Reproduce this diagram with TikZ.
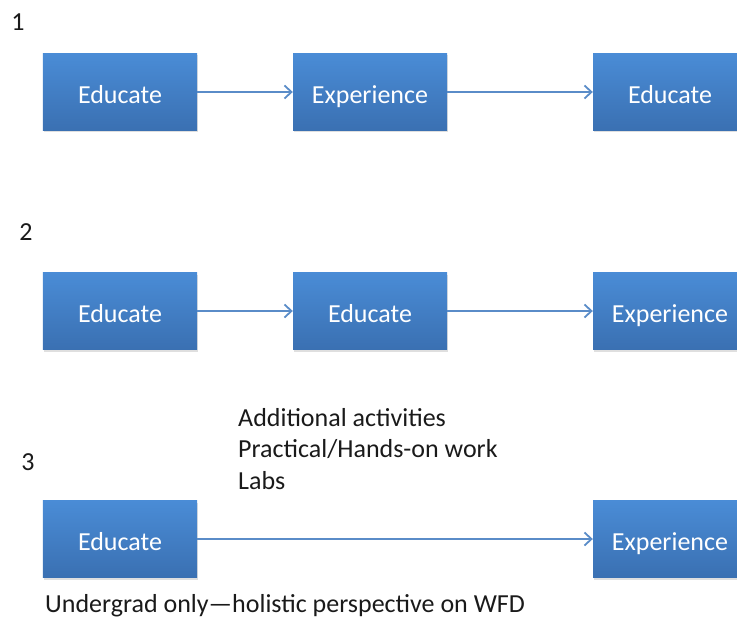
\documentclass[tikz,border=0pt]{standalone}
\usepackage{fontspec}
\setmainfont{Carlito}
\usetikzlibrary{arrows.meta,shadows}
\definecolor{boxtop}{HTML}{4A8CD6}
\definecolor{boxbot}{HTML}{3A70B2}
\definecolor{arrowc}{HTML}{5A8CC8}
\definecolor{txt}{HTML}{1A1A1A}
\tikzset{
  stepbox/.style={rectangle, minimum width=154bp, minimum height=77bp, inner sep=0pt,
    top color=boxtop, bottom color=boxbot, draw=none,
    drop shadow={shadow xshift=1bp, shadow yshift=-2bp, opacity=0.25},
    text=white, font=\fontsize{26bp}{30bp}\selectfont,
    text height=23bp, text depth=0.2bp},
  flow/.style={draw=arrowc, line width=1.8bp, -{Straight Barb[length=7bp,width=13bp,line width=1.8bp]}},
  lbl/.style={text=txt, font=\fontsize{26bp}{31.5bp}\selectfont, inner sep=0pt}
}
\begin{document}
\begin{tikzpicture}[x=1bp,y=-1bp]
\useasboundingbox (0,0) rectangle (737,621);
\clip (0,0) rectangle (737,621);
\node[lbl, anchor=center] (n1) at (18,22) {1};
\node[lbl, anchor=center] (n2) at (26,232) {2};
\node[lbl, anchor=center] (n3) at (28,462) {3};

\node[stepbox] (a1) at (120,92) {Educate};
\node[stepbox] (a2) at (370,92) {Experience};
\node[stepbox] (a3) at (670,92) {Educate};
\draw[flow] (a1) -- (a2);
\draw[flow] (a2) -- (a3);

\node[stepbox] (b1) at (120,311) {Educate};
\node[stepbox] (b2) at (370,311) {Educate};
\node[stepbox] (b3) at (670,311) {Experience};
\draw[flow] (b1) -- (b2);
\draw[flow] (b2) -- (b3);

\node[stepbox] (c1) at (120,539) {Educate};
\node[stepbox] (c3) at (670,539) {Experience};
\draw[flow] (c1) -- (c3);

\node[lbl, anchor=north west, align=left] (notes) at (238,408) {Additional activities\\Practical/Hands-on work\\Labs};
\node[lbl, anchor=west] (under) at (45,606) {Undergrad only—holistic perspective on WFD};
\end{tikzpicture}
\end{document}
